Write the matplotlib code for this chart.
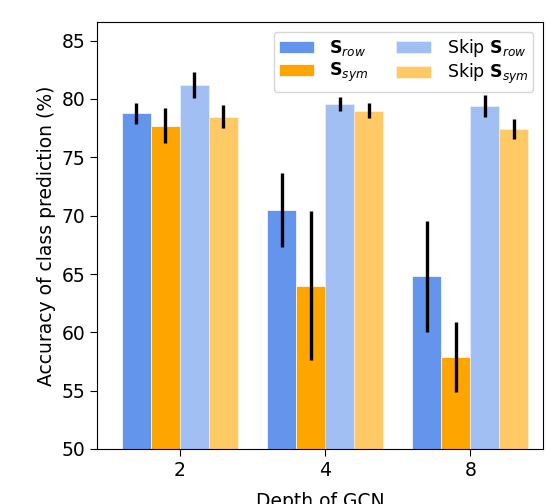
import numpy as np
import matplotlib.pyplot as plt

depths = ["2", "4", "8"]
labels = [r"$\mathbf{S}_{row}$", r"$\mathbf{S}_{sym}$",
          r"Skip $\mathbf{S}_{row}$", r"Skip $\mathbf{S}_{sym}$"]

s_row = [78.8, 70.5, 64.8]
s_row_err = [0.9, 3.2, 4.75]
s_sym = [77.7, 64.0, 57.9]
s_sym_err = [1.5, 6.4, 3.0]
skip_row = [81.2, 79.6, 79.4]
skip_row_err = [1.1, 0.6, 0.9]
skip_sym = [78.5, 79.0, 77.4]
skip_sym_err = [1.0, 0.65, 0.85]

means = [s_row, s_sym, skip_row, skip_sym]
errs = [s_row_err, s_sym_err, skip_row_err, skip_sym_err]
colors = ["#6495ED", "#FFA500", "#6495ED", "#FFA500"]
alphas = [1.0, 1.0, 0.6, 0.6]

fig = plt.figure(figsize=(5.46, 5.04), dpi=100)
ax = fig.add_axes([97 / 546, 1 - 449 / 504, 446 / 546, 427 / 504])

x = np.arange(len(depths))
w = 0.2
for i in range(4):
    ax.bar(x + (i - 1.5) * w, means[i], w, color=colors[i], alpha=alphas[i],
           edgecolor="white", linewidth=0.5, label=labels[i],
           yerr=errs[i], error_kw=dict(ecolor="black", elinewidth=2.4, capsize=0))

ax.set_xticks(x)
ax.set_xticklabels(depths, fontsize=13.5)
ax.set_xlim(-0.57, 2.5)
ax.set_ylim(50, 86.6)
ax.set_yticks(np.arange(50, 86, 5))
ax.tick_params(axis="y", labelsize=13.5)
ax.tick_params(axis="both", length=5)
ax.set_xlabel("Depth of GCN", fontsize=13.5, labelpad=9)
ax.set_ylabel("Accuracy of class prediction (%)", fontsize=13.5)
ax.legend(loc="upper right", ncol=2, fontsize=12.5, handlelength=2.0,
          handletextpad=0.9, columnspacing=1.6, borderaxespad=0.55,
          labelspacing=0.2, borderpad=0.3)

fig.savefig("out.png", dpi=100)
